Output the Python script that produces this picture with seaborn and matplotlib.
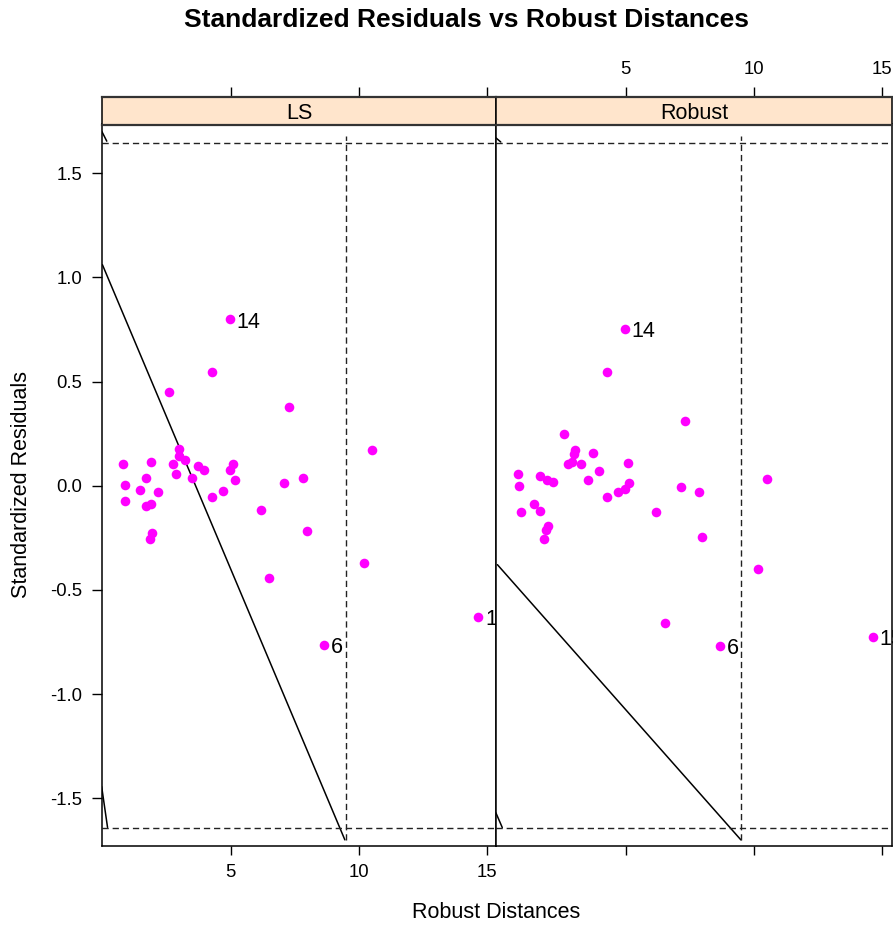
import matplotlib
matplotlib.use("Agg")
import matplotlib.pyplot as plt
import seaborn as sns
import numpy as np
import pandas as pd

# ---------------- data ----------------
panels = ["LS", "Robust"]

ls_x = [4.97, 4.28, 2.61, 7.26, 2.99, 2.99, 3.22, 0.82, 1.89, 2.76, 3.74, 3.97,
        5.10, 4.97, 2.88, 1.70, 3.48, 5.16, 7.81, 0.88, 7.09, 1.47, 2.18, 4.71,
        4.28, 0.88, 1.69, 1.91, 6.19, 7.96, 1.94, 1.85, 6.49, 10.52, 10.19,
        14.65, 8.65]
ls_y = [0.798, 0.545, 0.450, 0.378, 0.178, 0.141, 0.125, 0.104, 0.115, 0.104,
        0.093, 0.077, 0.104, 0.077, 0.058, 0.037, 0.037, 0.029, 0.037, 0.003,
        0.011, -0.022, -0.030, -0.024, -0.056, -0.075, -0.095, -0.087, -0.117,
        -0.216, -0.228, -0.256, -0.444, 0.170, -0.370, -0.631, -0.764]

rob_x = [4.97, 4.28, 7.31, 2.60, 3.02, 2.97, 3.73, 2.74, 2.92, 3.26, 5.09, 0.82,
         3.96, 1.66, 1.95, 2.18, 3.52, 0.85, 5.14, 4.97, 4.71, 7.14, 7.86, 4.28,
         1.44, 1.66, 0.91, 6.17, 1.98, 1.88, 7.97, 1.83, 10.49, 10.17, 14.63,
         8.67, 6.53]
rob_y = [0.753, 0.545, 0.309, 0.250, 0.173, 0.154, 0.157, 0.104, 0.112, 0.104,
         0.110, 0.058, 0.071, 0.045, 0.029, 0.016, 0.029, -0.003, 0.011, -0.014,
         -0.030, -0.008, -0.030, -0.056, -0.087, -0.123, -0.128, -0.128, -0.191,
         -0.212, -0.244, -0.256, 0.032, -0.399, -0.724, -0.769, -0.660]

# labelled observations: (index into arrays, label)
ls_labels = [(0, "14"), (36, "6"), (35, "15")]
rob_labels = [(0, "14"), (35, "6"), (34, "15")]

# solid lines drawn in panels
ls_line_x = [0.0, 9.45]
ls_line_y = [1.061, -1.70]
rob_line_x = [0.0, 9.49]
rob_line_y = [-0.379, -1.70]
# short corner segments (clipped at left border)
ls_seg_top_x, ls_seg_top_y = [-0.02, 0.17], [1.70, 1.654]
ls_seg_bot_x, ls_seg_bot_y = [-0.03, 0.20], [-1.444, -1.640]
rob_seg_top_x, rob_seg_top_y = [-0.06, 0.13], [1.670, 1.650]
rob_seg_bot_x, rob_seg_bot_y = [-0.06, 0.19], [-1.570, -1.641]

cutoff_x = 9.49
cutoff_y = 1.645
vline_range = [-1.70, 1.68]

x_ticks = [5, 10, 15]
y_ticks = [-1.5, -1.0, -0.5, 0.0, 0.5, 1.0, 1.5]
y_ticklabels = ["-1.5", "-1.0", "-0.5", "0.0", "0.5", "1.0", "1.5"]

title = "Standardized Residuals vs Robust Distances"
xlabel = "Robust Distances"
ylabel = "Standardized Residuals"

# ---------------- figure ----------------
sns.set_style("white")
plt.rcParams["font.family"] = ["Liberation Sans", "DejaVu Sans"]
plt.rcParams["text.color"] = "black"
plt.rcParams["axes.labelcolor"] = "black"
plt.rcParams["xtick.color"] = "black"
plt.rcParams["ytick.color"] = "black"

W, H = 893, 926
fig = plt.figure(figsize=(W / 100, H / 100), dpi=100)

def fx(px):
    return px / W

def fy(py):
    return 1 - py / H

panel_top, panel_bot = 124.5, 845.7
strip_top = 97.3
lefts = [102, 496]
rights = [496, 892]
xlims = [(-0.016, 15.34), (-0.055, 15.38)]
ylim = (-1.728, 1.734)
tick_fs = 13.3

data = {
    "LS": (ls_x, ls_y, ls_labels, ls_line_x, ls_line_y,
           [(ls_seg_top_x, ls_seg_top_y), (ls_seg_bot_x, ls_seg_bot_y)]),
    "Robust": (rob_x, rob_y, rob_labels, rob_line_x, rob_line_y,
               [(rob_seg_top_x, rob_seg_top_y), (rob_seg_bot_x, rob_seg_bot_y)]),
}

dash = (0, (4.5, 2.8))

for i, name in enumerate(panels):
    xs, ys, labs, lx, ly, segs = data[name]
    ax = fig.add_axes([fx(lefts[i]), fy(panel_bot), fx(rights[i] - lefts[i]),
                       (panel_bot - panel_top) / H])
    df = pd.DataFrame({"x": xs, "y": ys})
    sns.scatterplot(data=df, x="x", y="y", ax=ax, color="#FF00FF", s=48,
                    linewidth=0, zorder=3)
    ax.plot(lx, ly, color="black", lw=1.1, zorder=2)
    for sx, sy in segs:
        ax.plot(sx, sy, color="black", lw=1.1, zorder=2)
    ax.axhline(cutoff_y, color="#222222", lw=1.0, ls=dash)
    ax.axhline(-cutoff_y, color="#222222", lw=1.0, ls=dash)
    ax.plot([cutoff_x, cutoff_x], vline_range, color="#222222", lw=1.0, ls=dash)
    for idx, lab in labs:
        t = ax.annotate(lab, (xs[idx], ys[idx]), xytext=(5, -2),
                        textcoords="offset points", ha="left", va="center",
                        fontsize=15.5, color="black")
        t.set_clip_on(True)
    ax.set_xlim(*xlims[i])
    ax.set_ylim(*ylim)
    ax.set_xlabel("")
    ax.set_ylabel("")
    ax.set_xticks(x_ticks)
    ax.set_xticklabels([str(t) for t in x_ticks])
    ax.tick_params(axis="x", direction="out", length=6.5, width=1, pad=7,
                   labelsize=tick_fs, top=False, bottom=True,
                   labelbottom=(i == 0), colors="black")
    if i == 0:
        ax.set_yticks(y_ticks)
        ax.set_yticklabels(y_ticklabels)
        ax.tick_params(axis="y", direction="out", length=7, width=1, pad=7,
                       labelsize=tick_fs, left=True, colors="black")
    else:
        ax.set_yticks([])
    for sp in ax.spines.values():
        sp.set_color("black")
        sp.set_linewidth(1.1)

    # strip
    sax = fig.add_axes([fx(lefts[i]), fy(panel_top), fx(rights[i] - lefts[i]),
                        (panel_top - strip_top) / H])
    sax.set_facecolor("#FFE5CC")
    sax.set_xlim(*xlims[i])
    sax.set_ylim(0, 1)
    sax.text(0.5, 0.42, name, transform=sax.transAxes, ha="center",
             va="center", fontsize=15.5, color="black")
    sax.set_yticks([])
    sax.set_xticks(x_ticks)
    sax.set_xticklabels([str(t) for t in x_ticks])
    sax.tick_params(axis="x", direction="out", length=7, width=1, pad=7,
                    labelsize=tick_fs, top=True, bottom=False,
                    labeltop=(i == 1), labelbottom=False, colors="black")
    for k, sp in sax.spines.items():
        sp.set_color("#333333")
        sp.set_linewidth(1.6 if k in ("top", "bottom") else 1.1)
    sax.spines["left"].set_color("black")
    sax.spines["right"].set_color("black")

fig.text(fx(466), fy(20), title, ha="center", va="center", fontsize=19,
         fontweight="bold", color="black")
fig.text(fx(496.5), fy(913), xlabel, ha="center", va="center", fontsize=15.5,
         color="black")
fig.text(fx(22), fy(485), ylabel, ha="center", va="center", fontsize=15.5,
         rotation=90, color="black")

fig.savefig("out.png", dpi=100)
